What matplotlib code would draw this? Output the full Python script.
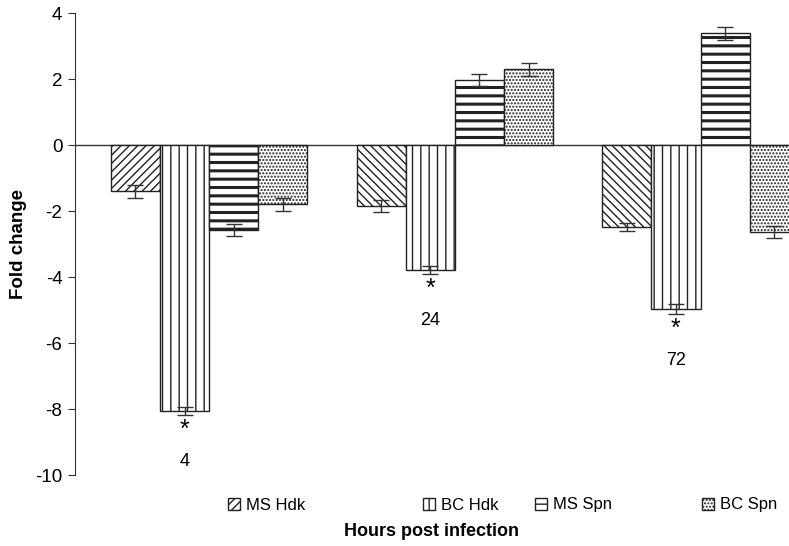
import numpy as np
import matplotlib
matplotlib.use("Agg")
import matplotlib.pyplot as plt
from matplotlib.patches import Patch

plt.rcParams['font.family'] = ['Liberation Sans', 'DejaVu Sans']

# data
hours = ['4', '24', '72']
series = ['MS Hdk', 'BC Hdk', 'MS Spn', 'BC Spn']
ms_hdk = [-1.40, -1.85, -2.48]
bc_hdk = [-8.06, -3.79, -4.97]
ms_spn = [-2.58, 1.97, 3.39]
bc_spn = [-1.80, 2.30, -2.64]
ms_hdk_err = [0.20, 0.18, 0.12]
bc_hdk_err = [0.13, 0.13, 0.15]
ms_spn_err = [0.18, 0.18, 0.20]
bc_spn_err = [0.20, 0.20, 0.18]
signif = [True, True, True]  # asterisk under BC Hdk

values = [ms_hdk, bc_hdk, ms_spn, bc_spn]
errors = [ms_hdk_err, bc_hdk_err, ms_spn_err, bc_spn_err]
hatches = [['////', '\\\\\\\\', '\\\\\\\\'], ['||', '||', '||'],
           ['--', '--', '--'], ['.....', '.....', '.....']]
legend_hatch = ['////', '||', '--', '.....']
# left edge of each legend entry (fraction of figure width)
legend_x = [228/789, 423/789, 535/789, 702/789]

fig = plt.figure(figsize=(7.89, 5.46), dpi=100)
ax = fig.add_axes([75/789, 71/546, 1 - 75/789, 462/546])

x = np.arange(len(hours))
w = 0.2
offsets = [-0.3, -0.1, 0.1, 0.3]
for k in range(4):
    bars = ax.bar(x + offsets[k], values[k], w, color='white',
                  edgecolor='#222222', linewidth=1.0, zorder=2)
    for j, b in enumerate(bars):
        b.set_hatch(hatches[k][j])
        if k == 2:
            b.set_hatch_linewidth(2.2)
        else:
            b.set_hatch_linewidth(1.0)
    ax.errorbar(x + offsets[k], values[k], yerr=errors[k], fmt='none',
                ecolor='#333333', elinewidth=1.0, capsize=6, capthick=1.0,
                zorder=3)

# asterisks and hour labels under the BC Hdk bars
for j, h in enumerate(hours):
    yb = bc_hdk[j] - bc_hdk_err[j]
    if signif[j]:
        ax.text(x[j] - 0.1, yb - 0.45, '*', ha='center', va='center',
                fontsize=18)
    ax.text(x[j] - 0.1, yb - 1.4, h, ha='center', va='center', fontsize=13)

ax.axhline(0, color='#333333', linewidth=1.0, zorder=1)
ax.set_xlim(-0.546, 2.36)
ax.set_ylim(-10, 4)
ax.set_yticks(np.arange(-10, 5, 2))
ax.set_yticklabels([str(v) for v in range(-10, 5, 2)])
ax.set_xticks([])
for s in ['top', 'right', 'bottom']:
    ax.spines[s].set_visible(False)
ax.spines['left'].set_color('#333333')
ax.tick_params(axis='y', labelsize=13.5, length=5, color='#333333', pad=4)
ax.set_ylabel('Fold change', fontsize=13.5, fontweight='bold', labelpad=6)

for k in range(4):
    p = Patch(facecolor='white', edgecolor='#222222', hatch=legend_hatch[k])
    fig.legend([p], [series[k]], loc='center left', frameon=False,
               bbox_to_anchor=(legend_x[k], 1 - 505/546), fontsize=12,
               handlelength=0.7, handleheight=0.7, handletextpad=0.4,
               borderpad=0, borderaxespad=0)
fig.text(432/789, 1 - 532/546, 'Hours post infection', ha='center',
         va='center', fontsize=13, fontweight='bold')

fig.savefig('out.png', dpi=100)
